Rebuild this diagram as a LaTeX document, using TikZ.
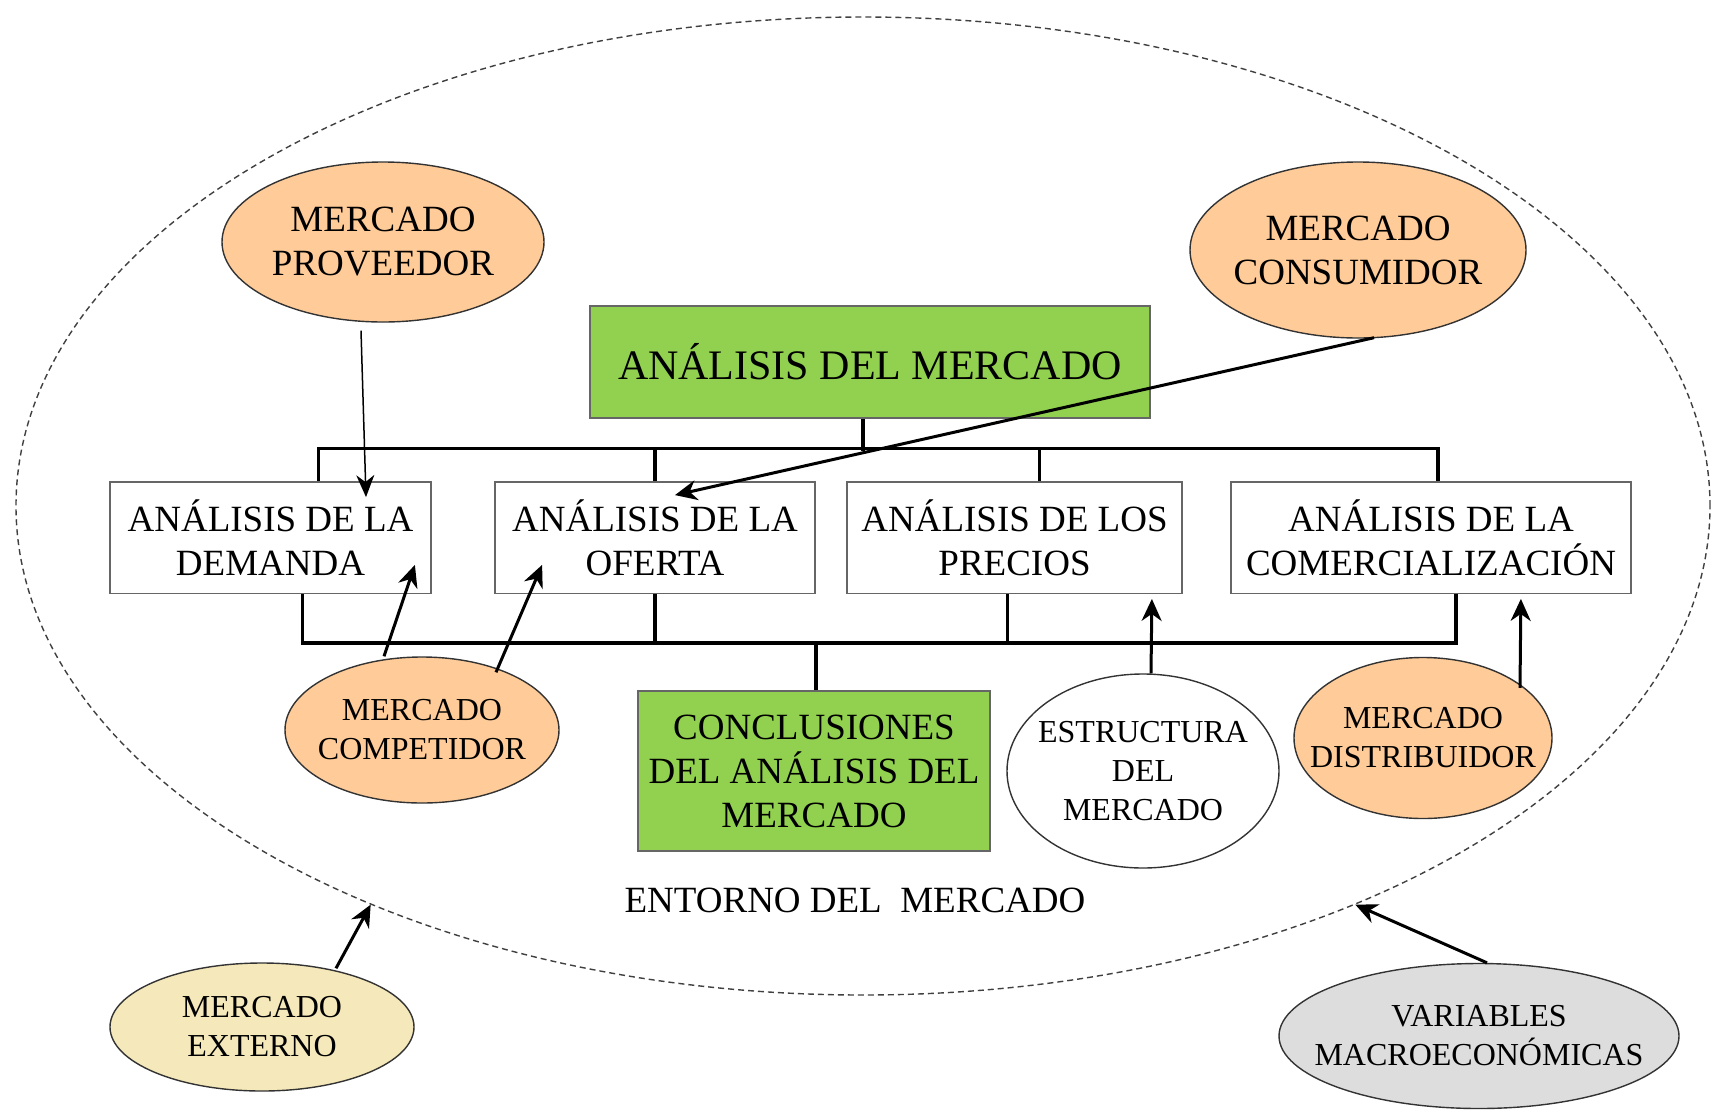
\documentclass[tikz,border=0pt]{standalone}
\usepackage{fontspec}
\setmainfont{Liberation Serif}
\usetikzlibrary{shapes.geometric,arrows.meta,calc}

\definecolor{verde}{HTML}{92D050}
\definecolor{naranja}{HTML}{FFCC99}
\definecolor{crema}{HTML}{F5E8BA}
\definecolor{gris}{HTML}{DDDDDD}

\begin{document}
\begin{tikzpicture}[x=1pt,y=-1pt]
	\tikzstyle{caja}=[draw=black!60, line width=1.8pt, fill=white, inner sep=0pt, align=center, font=\fontsize{37}{44}\selectfont]
	\tikzstyle{verdebox}=[caja, fill=verde]
	\tikzstyle{elipse}=[ellipse, draw=black!80, line width=1.4pt, inner xsep=-45pt, inner ysep=-20pt, align=center]
	\tikzstyle{grande}=[elipse, fill=naranja, font=\fontsize{37}{44}\selectfont]
	\tikzstyle{chica}=[elipse, font=\fontsize{32}{39}\selectfont]
	\tikzstyle{bus}=[line width=3.2pt, line join=miter]
	\tikzstyle{flecha}=[line width=3pt, -{Stealth[length=22pt,width=20pt,inset=7pt]}]
	\tikzstyle{fina}=[line width=1.5pt, -{Stealth[length=22pt,width=18pt,inset=7pt]}]
	\useasboundingbox (0,0) rectangle (1716,1109);

	% entorno
	\node[ellipse, draw=black!75, line width=1.4pt, dash pattern=on 6pt off 4pt, minimum width=1694pt, minimum height=978pt, inner sep=0pt] (env) at (863,506) {};
	\node[font=\fontsize{37}{44}\selectfont] (ent) at (855,900) {ENTORNO DEL\ \ MERCADO};

	% cajas
	\node[verdebox, minimum width=560pt, minimum height=112pt, font=\fontsize{42}{48}\selectfont] (main) at (870,362) {ANÁLISIS DEL MERCADO};
	\node[caja, minimum width=321pt, minimum height=111.5pt] (dem) at (270.5,537.75) {ANÁLISIS DE LA\\DEMANDA};
	\node[caja, minimum width=320pt, minimum height=111.5pt] (ofe) at (655,537.75) {ANÁLISIS DE LA\\OFERTA};
	\node[caja, minimum width=335pt, minimum height=111.5pt] (pre) at (1014.5,537.75) {ANÁLISIS DE LOS\\PRECIOS};
	\node[caja, minimum width=400pt, minimum height=111.5pt] (com) at (1431,537.75) {ANÁLISIS DE LA\\COMERCIALIZACIÓN};
	\node[verdebox, minimum width=352pt, minimum height=160pt] (conc) at (814,771) {CONCLUSIONES\\DEL ANÁLISIS DEL\\MERCADO};

	% elipses
	\node[grande, minimum width=322pt, minimum height=160pt] (prov) at (383,242) {MERCADO\\PROVEEDOR};
	\node[grande, minimum width=336pt, minimum height=176pt] (cons) at (1358,250) {MERCADO\\CONSUMIDOR};
	\node[chica, fill=naranja, minimum width=274pt, minimum height=146pt] (comp) at (422,730) {MERCADO\\COMPETIDOR};
	\node[chica, fill=white, minimum width=272pt, minimum height=194pt] (estr) at (1143,771) {ESTRUCTURA\\DEL\\MERCADO};
	\node[chica, fill=naranja, minimum width=258pt, minimum height=161pt] (dist) at (1423,738) {MERCADO\\DISTRIBUIDOR};
	\node[chica, fill=crema, minimum width=304pt, minimum height=128pt] (ext) at (262,1027) {MERCADO\\EXTERNO};
	\node[chica, fill=gris, minimum width=400pt, minimum height=145pt] (var) at (1479,1036) {VARIABLES\\MACROECONÓMICAS};

	% lineas
	\draw[bus] ([xshift=-7pt]main.south) -- ++(0,32);
	\draw[bus] ([xshift=48pt]dem.north) -- ++(0,-33) -| ([xshift=7pt]com.north);
	\draw[bus] (ofe.north) -- ++(0,-33);
	\draw[bus] ([xshift=25pt]pre.north) -- ++(0,-33);
	\draw[bus] ([xshift=32pt]dem.south) -- ++(0,48.5) -| ([xshift=25pt]com.south);
	\draw[bus] (ofe.south) -- ++(0,48.5);
	\draw[bus] ([xshift=-7pt]pre.south) -- ++(0,48.5);
	\draw[bus] ([xshift=2pt]conc.north) -- ++(0,-49);

	% flechas
	\draw[fina] ($(prov.south)+(-22,8)$) -- ($(dem.north)+(95.5,16)$);
	\draw[flecha] ($(cons.south)+(16,-1)$) -- ($(ofe.north)+(20,14)$);
	\draw[flecha] ($(comp.north)+(-38,0)$) -- ($(dem.south east)+(-17,-29.5)$);
	\draw[flecha] ($(comp.north)+(74,16)$) -- ($(ofe.south west)+(48,-29.5)$);
	\draw[flecha] ($(estr.north)+(8,0)$) -- ($(pre.south east)+(-31,4.5)$);
	\draw[flecha] ($(dist.north)+(97,31)$) -- ($(com.south east)+(-111,4.5)$);
	\draw[flecha] ($(ext.north)+(74,6)$) -- (env.219.6);
	\draw[flecha] ($(var.north)+(8,0)$) -- (env.321.7);
\end{tikzpicture}
\end{document}
